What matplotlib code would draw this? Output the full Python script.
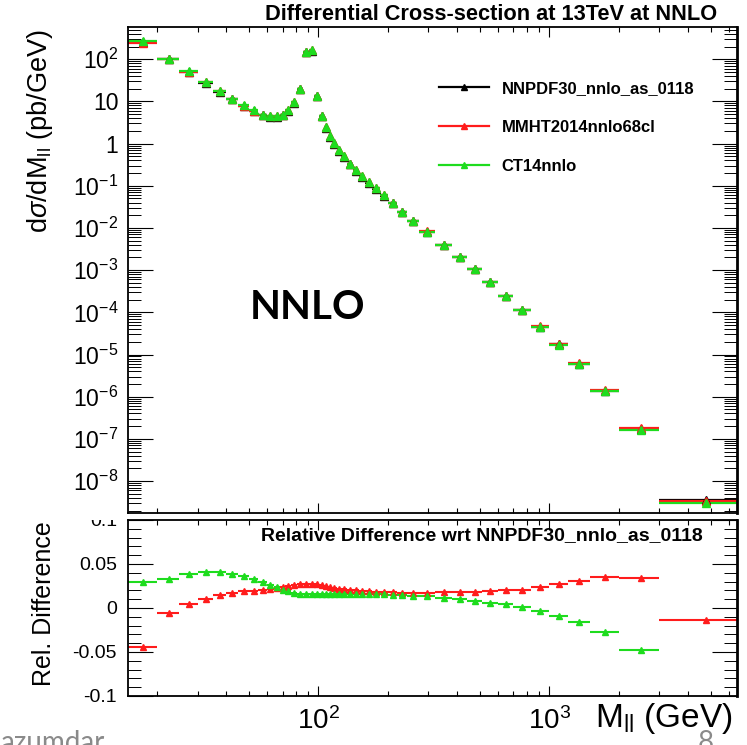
import numpy as np
import matplotlib
matplotlib.use('Agg')
import matplotlib.pyplot as plt
from matplotlib.ticker import LogLocator, NullFormatter, FuncFormatter, MultipleLocator
from matplotlib.lines import Line2D
from matplotlib.patches import Rectangle

plt.rcParams['font.family'] = ['Liberation Sans', 'DejaVu Sans']
plt.rcParams['mathtext.fontset'] = 'custom'
plt.rcParams['mathtext.rm'] = 'Liberation Sans'
plt.rcParams['mathtext.it'] = 'Liberation Sans:italic'
plt.rcParams['mathtext.bf'] = 'Liberation Sans:bold'

# mass bins (GeV)
edges = [15, 20, 25, 30, 35, 40, 45, 50, 55, 60, 64, 68, 72, 76, 81, 86, 91, 96,
         101, 106, 110, 115, 120, 126, 133, 141, 150, 160, 171, 185, 200, 220,
         243, 273, 320, 380, 440, 510, 600, 700, 830, 1000, 1200, 1500, 2000,
         3000, 6500]

# dsigma/dM for NNPDF30 (pb/GeV)
xsec_nnpdf = [258, 100, 50, 28, 17, 11.2, 7.8, 5.9, 4.7, 4.3, 4.3, 4.7, 6.0,
              9.4, 19.5, 145, 160, 13.3, 4.4, 2.4, 1.47, 1.0, 0.68, 0.49, 0.33,
              0.23, 0.164, 0.118, 0.085, 0.058, 0.039, 0.024, 0.0147, 0.0081,
              0.0039, 0.0020, 1.06e-3, 5.2e-4, 2.4e-4, 1.12e-4, 4.6e-5, 1.73e-5,
              6.1e-6, 1.39e-6, 1.73e-7, 3.5e-9]

# relative difference wrt NNPDF30
rel_mmht = [-0.044, -0.006, 0.0045, 0.010, 0.0148, 0.0174, 0.019, 0.0197, 0.0205,
            0.0216, 0.023, 0.024, 0.025, 0.026, 0.027, 0.0273, 0.0273, 0.027,
            0.026, 0.025, 0.024, 0.023, 0.022, 0.0215, 0.021, 0.020, 0.0197,
            0.019, 0.0185, 0.018, 0.018, 0.0175, 0.0175, 0.0175, 0.018, 0.018,
            0.0185, 0.019, 0.020, 0.021, 0.0235, 0.027, 0.031, 0.035, 0.0345,
            -0.014]
rel_ct14 = [0.029, 0.033, 0.039, 0.041, 0.0405, 0.039, 0.036, 0.033, 0.029, 0.026,
            0.0235, 0.021, 0.019, 0.017, 0.016, 0.0155, 0.0155, 0.0155, 0.0158,
            0.016, 0.016, 0.016, 0.016, 0.016, 0.016, 0.016, 0.016, 0.016, 0.016,
            0.0158, 0.0152, 0.0148, 0.014, 0.0133, 0.0117, 0.0099, 0.008, 0.006,
            0.0042, 0.0012, -0.003, -0.0088, -0.0158, -0.0276, -0.0478, -0.13]

labels = ['NNPDF30_nnlo_as_0118', 'MMHT2014nnlo68cl', 'CT14nnlo']
colors = ['black', '#ff1c1c', '#1edc1e']

edges = np.array(edges, float)
xc = 0.5 * (edges[1:] + edges[:-1])
xe = 0.5 * (edges[1:] - edges[:-1])
nnpdf = np.array(xsec_nnpdf)
mmht = nnpdf * (1 + np.array(rel_mmht))
ct14 = nnpdf * (1 + np.array(rel_ct14))

fig = plt.figure(figsize=(7.47, 7.45), dpi=100)
ax1 = fig.add_axes([128/747, 1-513/745, 609/747, 486/745])
ax2 = fig.add_axes([128/747, 1-696/745, 609/747, 176/745])


def ylab(v, pos):
    e = int(round(np.log10(v)))
    if e == 0:
        return '1'
    if e == 1:
        return '10'
    return r'$\mathdefault{10^{%d}}$' % e


for ax in (ax1, ax2):
    ax.set_xscale('log')
    ax.set_xlim(15, 6500)
    ax.xaxis.set_major_locator(LogLocator(base=10, numticks=10))
    ax.xaxis.set_minor_locator(LogLocator(base=10, subs=np.arange(2, 10), numticks=20))
    ax.xaxis.set_minor_formatter(NullFormatter())
    ax.tick_params(axis='x', which='major', direction='in', length=7.5, width=0.8,
                   top=True, bottom=True)
    ax.tick_params(axis='x', which='minor', direction='in', length=3.8, width=0.8,
                   top=True, bottom=True)
    ax.tick_params(axis='y', which='major', direction='in', length=18, width=0.8,
                   left=True, right=True)
    ax.tick_params(axis='y', which='minor', direction='in', length=9.5, width=0.7,
                   left=True, right=True)
    for s in ax.spines.values():
        s.set_linewidth(1.3)
    ax.spines['right'].set_linewidth(2)

# top panel
for y, c in zip([nnpdf, mmht, ct14], colors):
    ax1.errorbar(xc, y, xerr=xe, fmt='^', color=c, ms=5.5, elinewidth=1.6, capsize=0)
ax1.set_yscale('log')
ax1.set_ylim(1.75e-9, 5.8e2)
ax1.yaxis.set_major_locator(LogLocator(base=10, numticks=20))
ax1.yaxis.set_minor_locator(LogLocator(base=10, subs=np.arange(2, 10), numticks=20))
ax1.yaxis.set_major_formatter(FuncFormatter(ylab))
ax1.yaxis.set_minor_formatter(NullFormatter())
ax1.tick_params(axis='y', which='major', labelsize=16.5, pad=7)
ax1.tick_params(axis='x', labelbottom=False)

handles = [Line2D([], [], color=c, marker='^', ms=4, lw=1.6) for c in colors]
ax1.legend(handles, labels, loc='upper left', bbox_to_anchor=(0.511, 0.889),
           frameon=False, prop={'weight': 'bold', 'size': 12},
           handlelength=3.0, handletextpad=0.75, labelspacing=1.45,
           borderpad=0, borderaxespad=0)

ax1.text(0.2003, 0.422, 'NNLO', transform=ax1.transAxes, ha='left', va='center',
         family=['Lato', 'DejaVu Sans'], weight='bold', size=29)

# bottom panel
for r, c in zip([rel_mmht, rel_ct14], colors[1:]):
    ax2.errorbar(xc, r, xerr=xe, fmt='^', color=c, ms=5, elinewidth=1.5, capsize=0)
ax2.set_ylim(-0.1, 0.1)
ax2.yaxis.set_major_locator(MultipleLocator(0.05))
ax2.yaxis.set_minor_locator(MultipleLocator(0.01))
ax2.yaxis.set_major_formatter(FuncFormatter(lambda v, p: '%g' % round(v, 3)))
ax2.xaxis.set_major_formatter(FuncFormatter(ylab))
ax2.tick_params(axis='y', which='major', labelsize=14, pad=8)
ax2.tick_params(axis='x', which='major', labelsize=20, pad=8)
ax2.text(0.944, 0.909, 'Relative Difference wrt NNPDF30_nnlo_as_0118',
         transform=ax2.transAxes, ha='right', va='center', weight='bold', size=14)

# labels and title
fig.text(717/747, 1-15/745, 'Differential Cross-section at 13TeV at NNLO',
         ha='right', va='center', weight='bold', size=15.7)
fig.text(40/747, 1-130.5/745, r'd$\sigma$/dM$_{\rm ll}$ (pb/GeV)', rotation=90,
         ha='center', va='center', size=19.5)
fig.text(44/747, 1-603.5/745, 'Rel. Difference', rotation=90,
         ha='center', va='center', size=18)
fig.text(733/747, 1-727/745, r'M$_{\rm ll}$ (GeV)', ha='right', va='baseline', size=24)

# overlapping pad hides the top of the 0.1 label
fig.add_artist(Rectangle((60/747, 1-520/745), 67/747, 16/745, transform=fig.transFigure,
                         facecolor='white', edgecolor='none', zorder=5))

# slide footer
fig.text(0, -6/745, 'azumdar', ha='left', va='baseline', color='#8a8a8a',
         family=['Lato', 'DejaVu Sans'], size=20)
fig.text(706/747, -6/745, '8', ha='center', va='baseline', color='#8a8a8a',
         family=['Lato', 'DejaVu Sans'], size=20)

fig.savefig('out.png', dpi=100)
